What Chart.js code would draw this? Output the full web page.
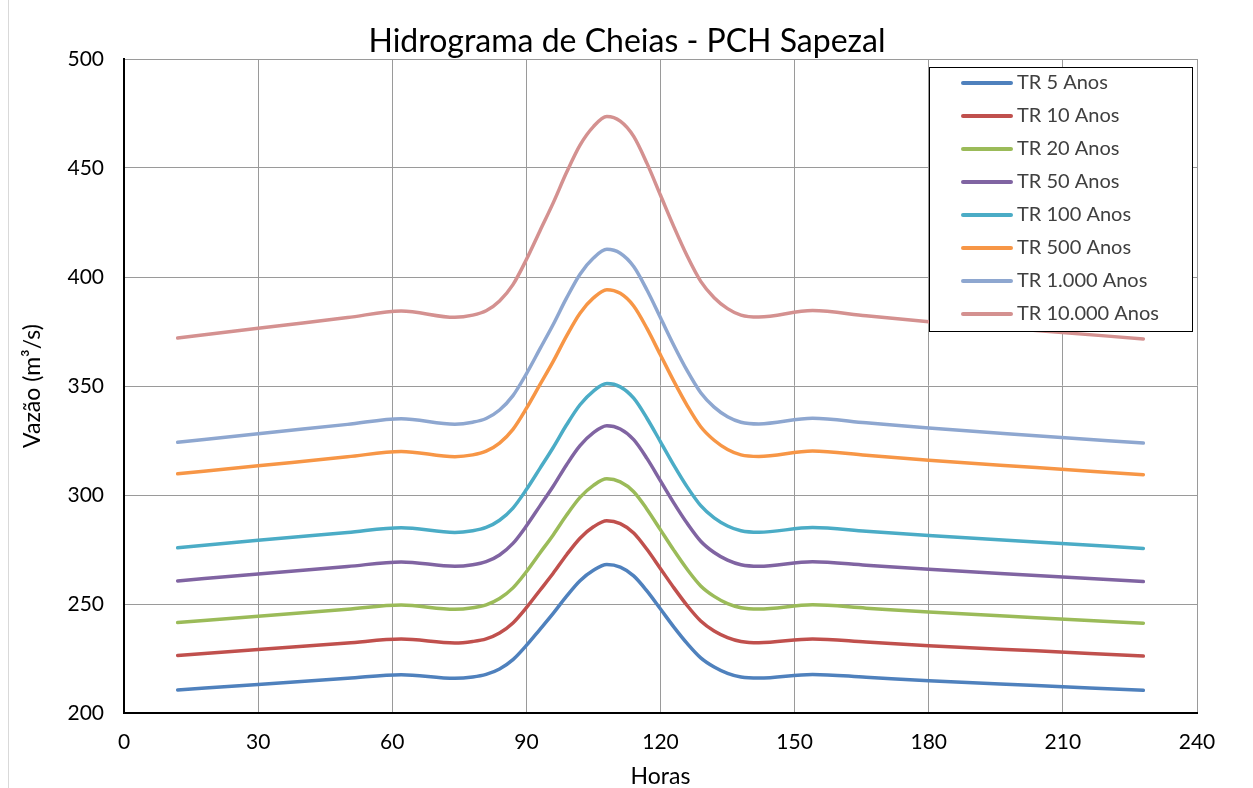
<!DOCTYPE html>
<html>
<head>
<meta charset="utf-8">
<script src="https://cdn.jsdelivr.net/npm/chart.js@4/dist/chart.umd.min.js"></script>
<style>
  html, body { margin: 0; padding: 0; background: #fff; }
  #wrap { width: 1253px; height: 788px; }
</style>
</head>
<body>
<div id="wrap"><canvas id="myChart" width="1253" height="788"></canvas></div>
<script>
// Horas (eixo x)
const horas = [12, 30, 50, 62, 74, 78, 81, 84, 87, 90, 93, 96, 99, 102, 105, 108, 111, 114, 117, 120, 123, 126, 129, 132, 135, 138, 142, 154, 166, 180, 204, 228];

// Vazões (m³/s)
const tr5     = [210.6, 213.1, 215.9, 217.6, 215.9, 216.5, 217.7, 220.2, 224.5, 231.0, 238.3, 245.7, 253.6, 260.7, 265.5, 268.1, 266.9, 262.9, 255.9, 247.7, 239.4, 231.8, 225.3, 221.1, 218.2, 216.5, 216.0, 217.7, 216.4, 214.8, 212.6, 210.4];
const tr10    = [226.4, 229.1, 232.1, 233.9, 232.1, 232.8, 234.0, 236.7, 241.3, 248.3, 256.2, 264.1, 272.6, 280.2, 285.4, 288.2, 286.9, 282.6, 275.0, 266.2, 257.4, 249.2, 242.2, 237.6, 234.6, 232.8, 232.2, 234.0, 232.6, 230.9, 228.5, 226.1];
const tr20    = [241.5, 244.4, 247.6, 249.5, 247.6, 248.3, 249.6, 252.5, 257.4, 264.8, 273.3, 281.7, 290.8, 298.9, 304.4, 307.4, 306.0, 301.5, 293.4, 284.0, 274.6, 265.8, 258.3, 253.5, 250.2, 248.3, 247.7, 249.6, 248.1, 246.3, 243.7, 241.2];
const tr50    = [260.6, 263.8, 267.2, 269.3, 267.3, 268.0, 269.4, 272.5, 277.8, 285.8, 294.9, 304.0, 313.9, 322.6, 328.6, 331.8, 330.3, 325.4, 316.7, 306.5, 296.3, 286.9, 278.8, 273.6, 270.1, 268.0, 267.3, 269.4, 267.8, 265.9, 263.1, 260.3];
const tr100   = [275.8, 279.2, 282.8, 285.0, 282.8, 283.6, 285.1, 288.4, 294.0, 302.5, 312.1, 321.8, 332.2, 341.4, 347.7, 351.1, 349.6, 344.4, 335.1, 324.4, 313.6, 303.6, 295.1, 289.5, 285.8, 283.6, 282.9, 285.1, 283.4, 281.4, 278.4, 275.5];
const tr500   = [309.7, 313.4, 317.5, 320.0, 317.6, 318.4, 320.1, 323.8, 330.1, 339.7, 350.5, 361.3, 373.0, 383.4, 390.4, 394.2, 392.5, 386.7, 376.3, 364.2, 352.1, 340.9, 331.3, 325.1, 320.9, 318.4, 317.7, 320.2, 318.2, 315.9, 312.6, 309.3];
const tr1000  = [324.2, 328.1, 332.4, 335.0, 332.5, 333.4, 335.1, 339.0, 345.6, 355.6, 366.9, 378.2, 390.4, 401.3, 408.7, 412.7, 410.9, 404.8, 393.9, 381.3, 368.6, 356.9, 346.9, 340.3, 335.9, 333.4, 332.6, 335.2, 333.1, 330.7, 327.2, 323.8];
const tr10000 = [372.0, 376.5, 381.4, 384.4, 381.5, 382.5, 384.5, 389.0, 396.5, 408.0, 421.0, 434.0, 448.0, 460.5, 469.0, 473.6, 471.5, 464.5, 452.0, 437.5, 423.0, 409.5, 398.0, 390.5, 385.5, 382.5, 381.6, 384.6, 382.2, 379.5, 375.5, 371.6];

const nomes = ["TR 5 Anos", "TR 10 Anos", "TR 20 Anos", "TR 50 Anos", "TR 100 Anos", "TR 500 Anos", "TR 1.000 Anos", "TR 10.000 Anos"];
const series = [tr5, tr10, tr20, tr50, tr100, tr500, tr1000, tr10000];
const cores = ["#4F81BD", "#C0504D", "#9BBB59", "#8064A2", "#4BACC6", "#F79646", "#8EA7D0", "#D49190"];

const fonte = "Lato, 'Open Sans', sans-serif";

// titulo centrado na imagem
const titulo = {
  id: "titulo",
  afterDraw(chart) {
    const ctx = chart.ctx;
    ctx.save();
    ctx.fillStyle = "#000";
    ctx.font = "32px " + fonte;
    ctx.textAlign = "center";
    ctx.textBaseline = "middle";
    ctx.fillText("Hidrograma de Cheias - PCH Sapezal", 627, 42);
    // borda clara do lado esquerdo
    ctx.strokeStyle = "#d9d9d9";
    ctx.lineWidth = 1;
    ctx.beginPath();
    ctx.moveTo(8.5, 0);
    ctx.lineTo(8.5, 788);
    ctx.stroke();
    ctx.restore();
  }
};

// legenda dentro da area do grafico
const legenda = {
  id: "legenda",
  afterDatasetsDraw(chart) {
    const ctx = chart.ctx;
    const x0 = 929.5, y0 = 67.5, w = 263, h = 264;
    ctx.save();
    ctx.fillStyle = "#fff";
    ctx.fillRect(x0, y0, w, h);
    ctx.strokeStyle = "#000";
    ctx.lineWidth = 1;
    ctx.strokeRect(x0, y0, w, h);
    ctx.font = "20px " + fonte;
    ctx.textBaseline = "middle";
    chart.data.datasets.forEach((ds, i) => {
      const y = 83 + i * 33;
      ctx.strokeStyle = ds.borderColor;
      ctx.lineWidth = 4;
      ctx.lineCap = "round";
      ctx.beginPath();
      ctx.moveTo(963, y);
      ctx.lineTo(1011, y);
      ctx.stroke();
      ctx.fillStyle = "#404040";
      ctx.fillText(ds.label, 1017, y);
    });
    ctx.restore();
  }
};

const dados = {
  datasets: series.map((s, i) => ({
    label: nomes[i],
    data: horas.map((h, j) => ({ x: h, y: s[j] })),
    borderColor: cores[i],
    backgroundColor: cores[i],
    borderWidth: 3.5,
    pointRadius: 0,
    cubicInterpolationMode: "monotone",
    borderCapStyle: "round",
    borderJoinStyle: "round",
    fill: false
  }))
};

const config = {
  type: "line",
  data: dados,
  options: {
    responsive: false,
    animation: false,
    layout: { padding: { left: 0, right: 56, top: 59, bottom: 0 } },
    plugins: { legend: { display: false }, title: { display: false }, tooltip: { enabled: false } },
    scales: {
      x: {
        type: "linear",
        min: 0, max: 240,
        ticks: { stepSize: 30, color: "#000", font: { family: fonte, size: 21 }, padding: 17 },
        grid: { color: "#9a9a9a", lineWidth: 1, drawTicks: false },
        border: { color: "#000", width: 2 },
        title: { display: true, text: "Horas", color: "#000", font: { family: fonte, size: 23, lineHeight: 1 }, padding: { top: 0, bottom: 0 } },
        afterFit(scale) { scale.height = 75; }
      },
      y: {
        min: 200, max: 500,
        ticks: { stepSize: 50, color: "#000", font: { family: fonte, size: 21 }, padding: 20 },
        grid: { color: "#9a9a9a", lineWidth: 1, drawTicks: false },
        border: { color: "#000", width: 2 },
        title: { display: true, text: "Vazão (m³/s)", color: "#000", font: { family: fonte, size: 23 }, padding: { top: 19, bottom: 0 } },
        afterFit(scale) { scale.width = 124; }
      }
    }
  },
  plugins: [titulo, legenda]
};

const context = document.getElementById("myChart");
let myChart = new Chart(context, config);
</script>
</body>
</html>
